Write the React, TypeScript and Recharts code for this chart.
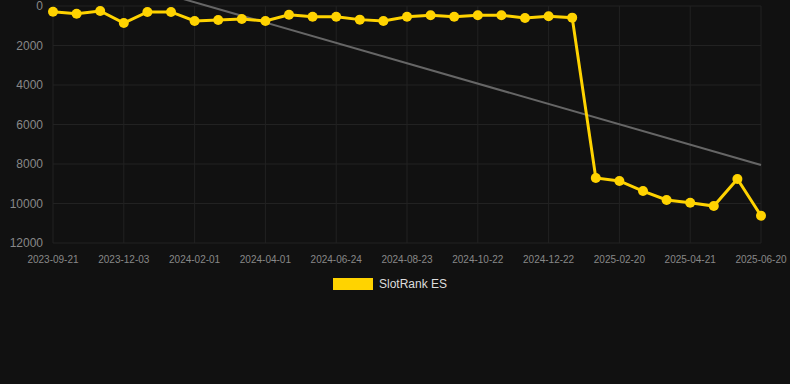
import {
  LineChart, Line, XAxis, YAxis, CartesianGrid, Legend, ReferenceLine,
} from 'recharts';

const dates = [
  '2023-09-21', '2023-10-15', '2023-11-09',
  '2023-12-03', '2023-12-23', '2024-01-12',
  '2024-02-01', '2024-02-21', '2024-03-12',
  '2024-04-01', '2024-04-29', '2024-05-27',
  '2024-06-24', '2024-07-14', '2024-08-03',
  '2024-08-23', '2024-09-12', '2024-10-02',
  '2024-10-22', '2024-11-11', '2024-12-02',
  '2024-12-22', '2025-01-11', '2025-01-31',
  '2025-02-20', '2025-03-12', '2025-04-01',
  '2025-04-21', '2025-05-11', '2025-05-31',
  '2025-06-20',
];

const ranks = [
  290, 390, 250, 860, 300, 300, 760, 710, 660, 760,
  440, 540, 540, 690, 760, 540, 470, 540, 470, 470,
  610, 520, 590, 8710, 8860, 9370, 9820, 9960, 10130, 8760,
  10620,
];

const tickLabels = [
  '2023-09-21', '2023-12-03', '2024-02-01', '2024-04-01', '2024-06-24', '2024-08-23',
  '2024-10-22', '2024-12-22', '2025-02-20', '2025-04-21', '2025-06-20',
];

const yTicks = [0, 2000, 4000, 6000, 8000, 10000, 12000];

// trend line end values (first and last date)
const trendStart = -2250;
const trendEnd = 8050;

const GOLD = '#ffd300';
const FONT = '"Liberation Sans", Arial, sans-serif';

const data = dates.map((d, i) => ({ date: d, rank: ranks[i] }));

function LegendContent() {
  return (
    <div style={{ height: 20, paddingRight: 10, display: 'flex', justifyContent: 'center', alignItems: 'center', gap: 6, fontFamily: FONT, fontSize: 12, color: '#dddddd' }}>
      <span style={{ width: 40, height: 12, backgroundColor: GOLD, display: 'inline-block' }} />
      <span>SlotRank ES</span>
    </div>
  );
}

export default function App() {
  return (
    <div style={{ position: 'absolute', left: 0, top: 0, width: 790, height: 384, background: '#111111' }}>
      <LineChart width={790} height={384} data={data} margin={{ top: 6, right: 29, left: 0, bottom: 90 }}>
        <CartesianGrid stroke="#222222" strokeWidth={1} />
        <XAxis
          dataKey="date"
          ticks={tickLabels}
          interval={0}
          height={31}
          tickLine={false}
          axisLine={false}
          tickMargin={7}
          tick={{ fill: '#888888', fontSize: 10, fontFamily: FONT }}
        />
        <YAxis
          reversed
          domain={[0, 12000]}
          ticks={yTicks}
          interval={0}
          width={53}
          tickLine={false}
          axisLine={false}
          tickMargin={4}
          tick={{ fill: '#888888', fontSize: 12, fontFamily: FONT }}
        />
        <ReferenceLine
          segment={[{ x: dates[0], y: trendStart }, { x: dates[dates.length - 1], y: trendEnd }]}
          ifOverflow="visible"
          stroke="#666666"
          strokeWidth={2}
        />
        <Line
          type="linear"
          dataKey="rank"
          name="SlotRank ES"
          stroke={GOLD}
          strokeWidth={3}
          dot={{ r: 5, fill: GOLD, stroke: GOLD, strokeWidth: 0 }}
          isAnimationActive={false}
        />
        <Legend verticalAlign="bottom" wrapperStyle={{ left: 0, width: 790 }} content={<LegendContent />} />
      </LineChart>
    </div>
  );
}
